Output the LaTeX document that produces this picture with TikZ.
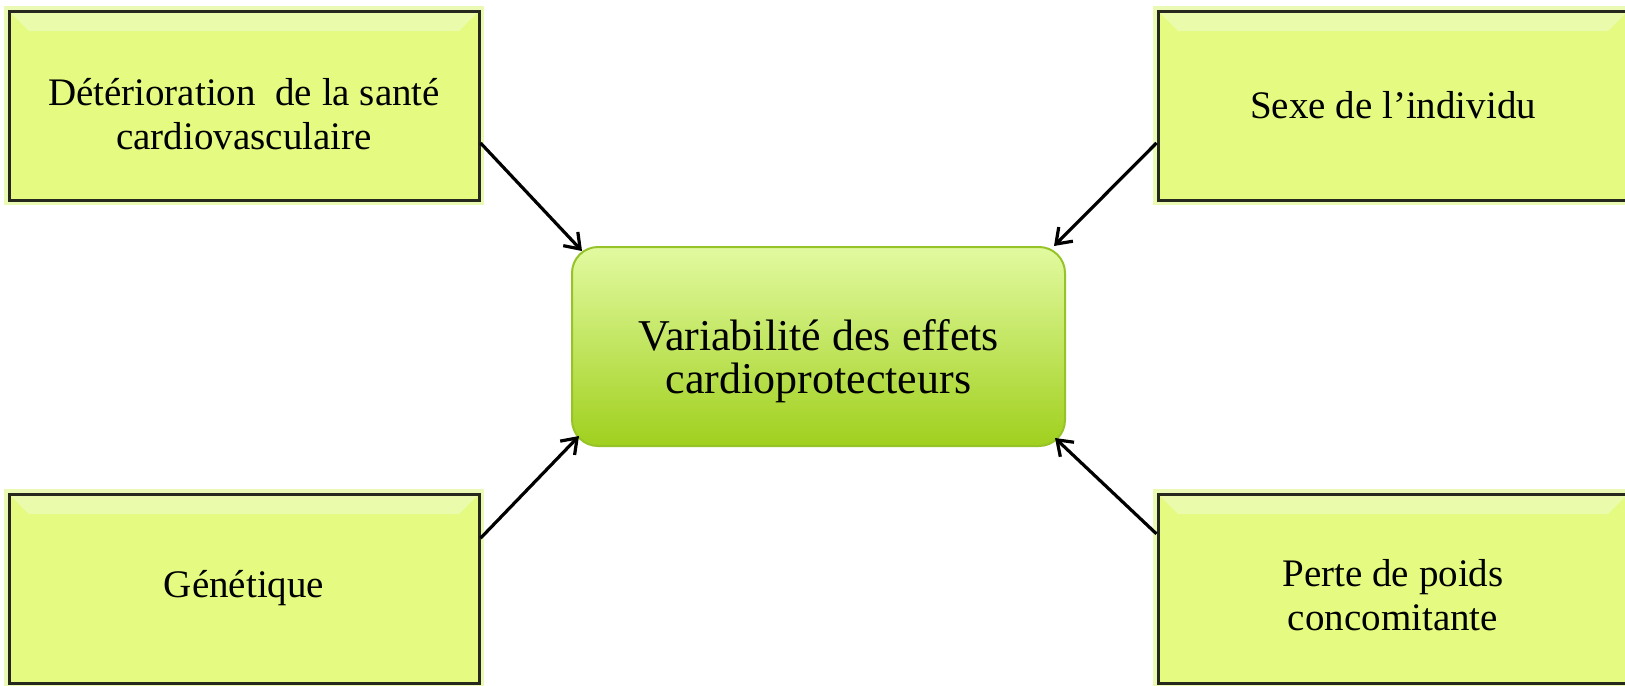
\documentclass[tikz,border=0pt]{standalone}
\usepackage{fontspec}
\setmainfont{Liberation Serif}
\usepackage{tikz}
\usetikzlibrary{arrows.meta}
\definecolor{factorfill}{RGB}{229,250,128}
\definecolor{factorband}{RGB}{234,251,172}
\definecolor{factorglow}{RGB}{234,250,180}
\definecolor{factorline}{RGB}{38,40,30}
\definecolor{effecttop}{RGB}{226,250,160}
\definecolor{effectmid}{RGB}{192,240,72}
\definecolor{effectbottom}{RGB}{160,208,30}
\definecolor{effectline}{RGB}{150,195,40}
\newcommand{\factorwidth}{235pt}
\newcommand{\factorheight}{94.5pt}
\newcommand{\bevel}{10pt}
\tikzstyle{factor}=[draw=factorline, line width=1.5pt, fill=factorfill,
                    minimum width=\factorwidth, minimum height=\factorheight,
                    inner sep=0, align=center, font=\fontsize{19.5}{22}\selectfont,
                    % light halo round the box
                    preaction={draw=factorglow, line width=5pt},
                    % lighter band along the top edge
                    path picture={\fill[factorband] (path picture bounding box.north west)
                      -- (path picture bounding box.north east)
                      -- ([shift={(-\bevel,-\bevel)}]path picture bounding box.north east)
                      -- ([shift={(\bevel,-\bevel)}]path picture bounding box.north west) -- cycle;}]
\tikzstyle{effect}=[draw=effectline, line width=1pt, rounded corners=13pt,
                    top color=effecttop, middle color=effectmid, bottom color=effectbottom,
                    minimum width=246.5pt, minimum height=99.5pt,
                    inner sep=0, align=center, font=\fontsize{22}{21.5}\selectfont]
\tikzstyle{influence}=[line width=1.6pt, -{Straight Barb[length=7pt, width=10pt]}]

\begin{document}
\begin{tikzpicture}[x=0.5pt, y=-0.5pt]
    \useasboundingbox (0, 0) rectangle (1625, 685);
    \node[factor] (sante)  at (244, 105.5)  {\rule{0pt}{22pt}Détérioration\ \ de la santé\\cardiovasculaire};
    \node[factor] (sexe)   at (1393, 105.5) {Sexe de l’individu};
    \node[factor] (genet)  at (244, 588.5)  {Génétique};
    \node[factor] (poids)  at (1393, 588.5) {\rule{0pt}{20pt}Perte de poids\\concomitante};
    \node[effect] (effets) at (818.5, 346.5) {\rule{0pt}{30pt}Variabilité des effets\\cardioprotecteurs};
    \draw[influence] (sante.-9.5)  -- ([shift={(11, 5)}]effets.north west);
    \draw[influence] (sexe.189.5)  -- ([shift={(-12, 0)}]effets.north east);
    \draw[influence] (genet.12.4)  -- ([shift={(8, -11)}]effets.south west);
    \draw[influence] (poids.167.6) -- ([shift={(-11, -9)}]effets.south east);
\end{tikzpicture}
\end{document}
